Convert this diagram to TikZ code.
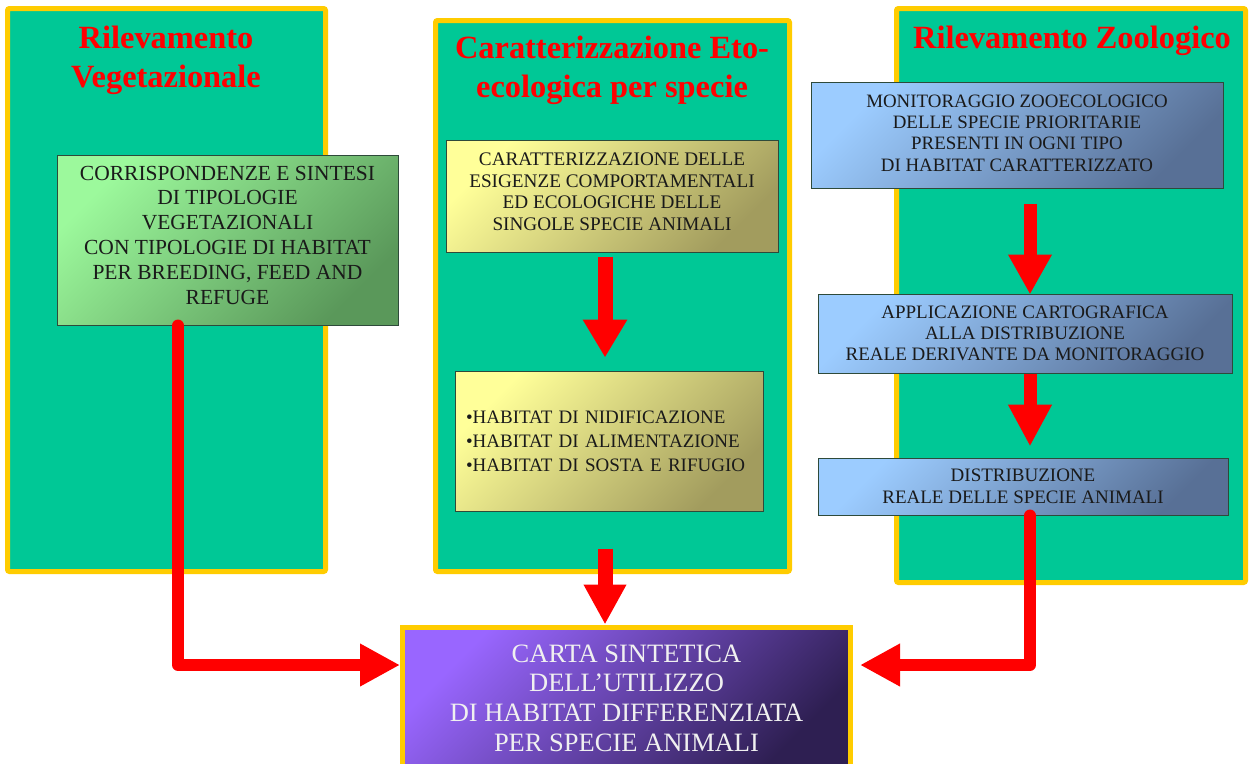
\documentclass[tikz,border=0pt]{standalone}
\usepackage{fontspec}
\setmainfont{Liberation Serif}
\usetikzlibrary{arrows.meta,calc}
\definecolor{panelgreen}{HTML}{00C896}
\definecolor{gold}{HTML}{FFCC00}
\definecolor{arrred}{HTML}{FF0000}
\definecolor{boxline}{HTML}{2E4A3A}
\definecolor{txt}{HTML}{1A1A1A}
\definecolor{gtop}{HTML}{9CF99C}
\definecolor{gbot}{HTML}{5A985A}
\definecolor{ytop}{HTML}{FFFF99}
\definecolor{ybot}{HTML}{A29C5E}
\definecolor{btop}{HTML}{9CCCFF}
\definecolor{bbot}{HTML}{587096}
\definecolor{ptop}{HTML}{9966FF}
\definecolor{pbot}{HTML}{2E1F52}
\tikzset{
  panel/.style={draw=gold, line width=5pt, fill=panelgreen, rounded corners=2pt, inner sep=0pt},
  title/.style={text=arrred, font=\bfseries\fontsize{32.4}{39}\selectfont, align=center},
  boxtext/.style={draw=boxline, line width=1pt, text=txt, align=center, inner sep=2pt},
  greenbox/.style={boxtext, top color=gtop, bottom color=gbot, shading angle=45},
  yellowbox/.style={boxtext, top color=ytop, bottom color=ybot, shading angle=45},
  bluebox/.style={boxtext, top color=btop, bottom color=bbot, shading angle=45},
  bigarrow/.style={draw=arrred, line width=14pt, -{Triangle[width=42pt,length=38pt]}},
  connector/.style={draw=arrred, line width=12pt, line cap=round, line join=round, -{Triangle[width=40pt,length=40pt]}},
}
\begin{document}
\begin{tikzpicture}[x=1pt,y=-1pt]
\useasboundingbox (0,0) rectangle (1249,763);
\fill[white] (0,0) rectangle (1249,763);
% panels
\node[panel, minimum width=318pt, minimum height=563pt] (lpanel) at (166.5,290) {};
\node[panel, minimum width=354pt, minimum height=551pt] (mpanel) at (612.5,296) {};
\node[panel, minimum width=349pt, minimum height=574pt] (rpanel) at (1071,295.5) {};
% titles
\node[title] (ltitle) at (166,60) {Rilevamento\\Vegetazionale};
\node[title] (mtitle) at (612,70) {Caratterizzazione Eto-\\ecologica per specie};
\node[title] (rtitle) at (1072,41) {Rilevamento Zoologico};
% left box
\node[greenbox, minimum width=341pt, minimum height=170pt, text depth=10pt, font=\fontsize{21.5}{24.8}\selectfont] (lbox) at (227.5,240)
 {CORRISPONDENZE E SINTESI\\DI TIPOLOGIE\\VEGETAZIONALI\\CON TIPOLOGIE DI HABITAT\\PER BREEDING, FEED AND\\REFUGE};
% middle boxes
\node[yellowbox, minimum width=332pt, minimum height=112pt, text depth=9pt, font=\fontsize{19.2}{21.7}\selectfont] (m1) at (612,196)
 {CARATTERIZZAZIONE DELLE\\ESIGENZE COMPORTAMENTALI\\ED ECOLOGICHE DELLE\\SINGOLE SPECIE ANIMALI};
\node[yellowbox, minimum width=308pt, minimum height=140pt, text width=286pt, align=left, inner sep=0pt, font=\fontsize{19}{24}\selectfont] (m2) at (609,441)
 {\textbullet HABITAT DI NIDIFICAZIONE\\\textbullet HABITAT DI ALIMENTAZIONE\\\textbullet HABITAT DI SOSTA E RIFUGIO};
% right boxes
\node[bluebox, minimum width=412pt, minimum height=106pt, text depth=4pt, font=\fontsize{18.9}{21.3}\selectfont] (r1) at (1017,135)
 {MONITORAGGIO ZOOECOLOGICO\\DELLE SPECIE PRIORITARIE\\PRESENTI IN OGNI TIPO\\DI HABITAT CARATTERIZZATO};
\node[bluebox, minimum width=414pt, minimum height=79pt, font=\fontsize{19}{21.3}\selectfont] (r2) at (1025,333.5)
 {APPLICAZIONE CARTOGRAFICA\\ALLA DISTRIBUZIONE\\REALE DERIVANTE DA MONITORAGGIO};
\node[bluebox, minimum width=410pt, minimum height=57pt, font=\fontsize{19}{21.6}\selectfont] (r3) at (1023,486.5)
 {DISTRIBUZIONE\\REALE DELLE SPECIE ANIMALI};
% final box
\node[draw=gold, line width=5pt, top color=ptop, bottom color=pbot, shading angle=45,
      minimum width=448pt, minimum height=141pt, text=white!94!black, align=center,
      font=\fontsize{26.5}{29.6}\selectfont] (final) at (626.5,698)
 {CARTA SINTETICA\\DELL’UTILIZZO\\DI HABITAT DIFFERENZIATA\\PER SPECIE ANIMALI};
% arrows
\draw[bigarrow, line width=15pt] ($(m1.south)+(-7,4)$) -- ($(m2.north)+(-4,-13)$);
\draw[bigarrow, line width=15pt, -{Triangle[width=40pt,length=40pt]}] ($(m2.south)+(-4,37)$) -- ($(final.north)+(-21.5,-0.5)$);
\draw[bigarrow, line width=13pt, -{Triangle[width=41pt,length=40pt]}] ($(r1.south)+(13,15)$) -- ($(r2.north)+(5,1)$);
\draw[bigarrow, line width=13pt, -{Triangle[width=41pt,length=42pt]}] ($(r2.south)+(5,0)$) -- ($(r3.north)+(7,-11)$);
% connectors
\coordinate (lbend) at (178,665);
\coordinate (rbend) at (1030,665);
\draw[connector] ($(lbox.south)+(-49.5,0)$) -- (lbend) -- (lbend -| final.west);
\draw[connector] ($(r3.south)+(7,0)$) -- (rbend) -- ($(rbend -| final.east)+(7,0)$);
\end{tikzpicture}
\end{document}
